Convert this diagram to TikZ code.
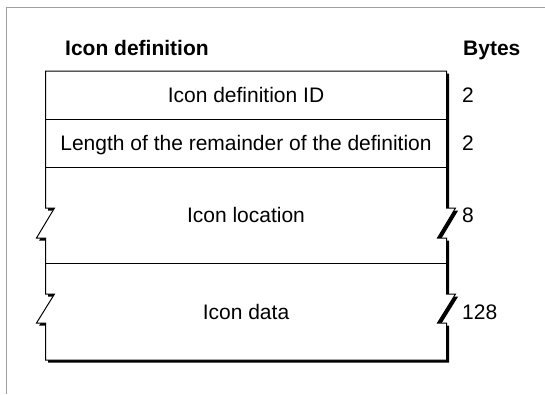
\documentclass[tikz,border=0pt]{standalone}
\usepackage{fontspec}
\setmainfont{Liberation Sans}
\definecolor{framegray}{HTML}{A0A0A0}
\begin{document}
\begin{tikzpicture}[x=1pt,y=1pt,
  txt/.style={inner sep=0pt,font=\fontsize{21}{25}\selectfont},
  hdr/.style={inner sep=0pt,font=\fontsize{21}{25}\selectfont\bfseries},
  outline/.style={line width=1pt,line join=miter},
  divider/.style={line width=0.9pt}]
\useasboundingbox (0,0) rectangle (545,-394);
\fill[white] (0,0) rectangle (545,-394);
% page frame
\draw[framegray,line width=1.1pt] (6.3,-394) -- (6.3,-7.3) -- (545,-7.3);
% record outline path
\def\recordpath{(45.5,-71) -- (446.5,-71) -- (446.5,-208) -- (455.5,-208) -- (437.5,-238) -- (446.5,-238)
  -- (446.5,-294) -- (455.5,-294) -- (437.5,-323) -- (446.5,-323) -- (446.5,-360)
  -- (45.5,-360) -- (45.5,-323) -- (36.5,-323) -- (54.5,-294) -- (45.5,-294)
  -- (45.5,-238) -- (36.5,-238) -- (54.5,-208) -- (45.5,-208) -- cycle}
% shadow
\begin{scope}[shift={(2.6,-2.6)}]
\fill[black] \recordpath;
\end{scope}
\filldraw[fill=white,draw=black,outline] \recordpath;
% dividers
\draw[divider] (45.5,-119) -- (446.5,-119);
\draw[divider] (45.5,-167) -- (446.5,-167);
\draw[divider] (45.5,-263) -- (446.5,-263);
% headings
\node[hdr,anchor=base west] (title) at (65,-55.5) {Icon definition};
\node[hdr,anchor=base west] (bytes) at (463,-55.5) {Bytes};
% field labels
\node[txt,anchor=base] (f1) at (246,-102.5) {Icon definition ID};
\node[txt,anchor=base] (f2) at (246,-150.5) {Length of the remainder of the definition};
\node[txt,anchor=base] (f3) at (246,-222.5) {Icon location};
\node[txt,anchor=base] (f4) at (246,-319) {Icon data};
% byte counts
\node[txt,anchor=base west] (b1) at (462,-102.5) {2};
\node[txt,anchor=base west] (b2) at (462,-150.5) {2};
\node[txt,anchor=base west] (b3) at (462,-222.5) {8};
\node[txt,anchor=base west] (b4) at (462,-319) {128};
\end{tikzpicture}
\end{document}
